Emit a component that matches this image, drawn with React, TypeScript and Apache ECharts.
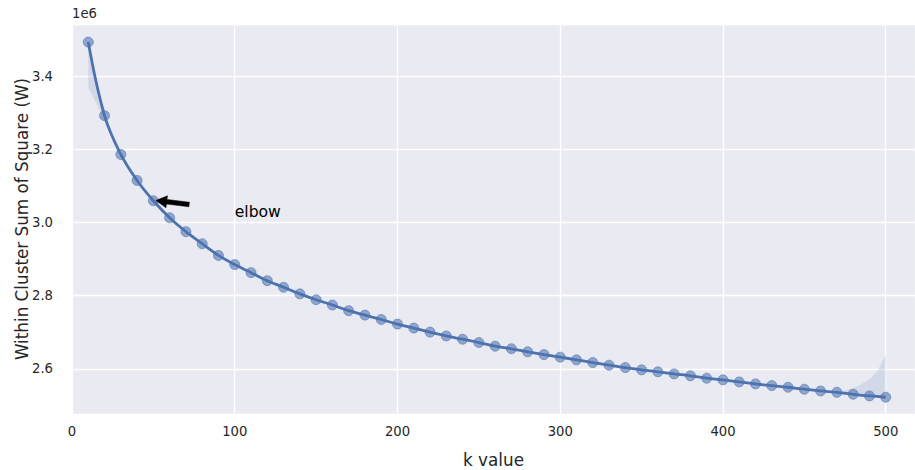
import React, { useEffect, useRef } from 'react';
import * as echarts from 'echarts';

// k values (number of clusters)
const kValues = [
  10, 20, 30, 40, 50, 60, 70, 80, 90, 100,
  110, 120, 130, 140, 150, 160, 170, 180, 190, 200,
  210, 220, 230, 240, 250, 260, 270, 280, 290, 300,
  310, 320, 330, 340, 350, 360, 370, 380, 390, 400,
  410, 420, 430, 440, 450, 460, 470, 480, 490, 500,
];

// Within cluster sum of squares
const wcss = [
  3493000, 3292000, 3186000, 3115000, 3059500, 3013000, 2975000, 2942000, 2910000, 2885000,
  2863000, 2841000, 2823000, 2805000, 2789000, 2774500, 2759000, 2747000, 2735000, 2722500,
  2711500, 2700500, 2690000, 2681000, 2672000, 2662000, 2655000, 2646600, 2639000, 2632000,
  2624700, 2617300, 2610000, 2603600, 2597300, 2592000, 2586300, 2581000, 2574500, 2570000,
  2564400, 2559000, 2554300, 2549800, 2544400, 2539700, 2536000, 2530600, 2526000, 2522500,
];

// Confidence band (only visible at the two ends)
const bandLeftK = [10, 15, 20, 25, 30];
const bandLeftUpper = [3493000, 3390000, 3292000, 3232000, 3186000];
const bandLeftLower = [3367000, 3326000, 3275000, 3228000, 3186000];
const bandRightK = [470, 475, 480, 485, 490, 495, 500];
const bandRightUpper = [2536000, 2541500, 2547000, 2558000, 2572000, 2594500, 2640000];
const bandRightLower = [2536000, 2533000, 2530600, 2528000, 2526000, 2524000, 2522500];

// Axis settings
const xMin = 0;
const xMax = 518;
const xTickStep = 100;
const yMin = 2476700;
const yMax = 3542500;
const yTickStep = 200000;

// Annotation
const elbowTip = [51.5, 3060300];
const elbowTail = [72, 3049300];
const elbowText = [100, 3027400];
const elbowLabel = 'elbow';

export default function App() {
  const ref = useRef<HTMLDivElement>(null);

  useEffect(() => {
    const chart = echarts.init(ref.current!, null, { renderer: 'svg' });
    const font = 'DejaVu Sans';
    const ink = '#262626';
    const blue = '#4C72B0';
    const points = kValues.map((k, i) => [k, wcss[i]]);
    const bands = [
      { k: bandLeftK, upper: bandLeftUpper, lower: bandLeftLower },
      { k: bandRightK, upper: bandRightUpper, lower: bandRightLower },
    ];

    chart.setOption({
      animation: false,
      grid: {
        left: 72,
        top: 24,
        right: 0,
        bottom: 56,
        show: true,
        backgroundColor: '#EAEAF2',
        borderWidth: 0,
        containLabel: false,
        outerBoundsMode: 'none',
      },
      xAxis: {
        type: 'value',
        min: xMin,
        max: xMax,
        interval: xTickStep,
        axisLine: { show: false },
        axisTick: { show: false },
        splitLine: { show: true, lineStyle: { color: '#ffffff', width: 1.3 } },
        axisLabel: {
          margin: 11,
          fontFamily: font,
          fontSize: 13.2,
          color: ink,
          showMaxLabel: false,
          formatter: (v: number) => (Math.round(v) % xTickStep === 0 ? String(Math.round(v)) : ''),
        },
        name: 'k value',
        nameLocation: 'middle',
        nameGap: 37,
        nameTextStyle: { fontFamily: font, fontSize: 16.8, color: ink },
      },
      yAxis: {
        type: 'value',
        min: yMin,
        max: yMax,
        splitNumber: 5,
        axisLine: { show: false },
        axisTick: { show: false },
        splitLine: { show: true, lineStyle: { color: '#ffffff', width: 1.3 } },
        axisLabel: {
          margin: 19,
          fontFamily: font,
          fontSize: 13.2,
          color: ink,
          showMinLabel: false,
          showMaxLabel: false,
          formatter: (v: number) =>
            Math.round(v) % yTickStep === 0 ? (v / 1e6).toFixed(1) : '',
        },
        name: 'Within Cluster Sum of Square (W)',
        nameLocation: 'middle',
        nameGap: 42,
        nameMoveOverlap: false,
        nameTextStyle: { fontFamily: font, fontSize: 16.8, color: ink },
      },
      series: [
        {
          type: 'custom',
          silent: true,
          z: 1,
          data: bands.map((b) => [b.k[0], b.upper[0]]),
          renderItem: (params: any, api: any) => {
            const b = bands[params.dataIndex];
            const up = b.k.map((k, i) => api.coord([k, b.upper[i]]));
            const lo = b.k.map((k, i) => api.coord([k, b.lower[i]])).reverse();
            return {
              type: 'polygon',
              shape: { points: up.concat(lo) },
              style: { fill: 'rgba(76,114,176,0.15)', stroke: 'none' },
            };
          },
        },
        {
          type: 'scatter',
          z: 2,
          data: points,
          symbolSize: 10,
          itemStyle: {
            color: 'rgba(76,114,176,0.72)',
            borderColor: 'rgba(76,114,176,0.72)',
            borderWidth: 1,
          },
        },
        {
          type: 'line',
          z: 3,
          data: points,
          smooth: 0.4,
          showSymbol: false,
          lineStyle: { color: blue, width: 2.8 },
        },
      ],
    });

    const tip = chart.convertToPixel({ gridIndex: 0 }, elbowTip) as number[];
    const tail = chart.convertToPixel({ gridIndex: 0 }, elbowTail) as number[];
    const txt = chart.convertToPixel({ gridIndex: 0 }, elbowText) as number[];
    const dx = tail[0] - tip[0];
    const dy = tail[1] - tip[1];
    const len = Math.hypot(dx, dy);
    const ux = dx / len;
    const uy = dy / len;
    const nx = -uy;
    const ny = ux;
    const headLen = 11;
    const headHalf = 6;
    const shaftHalf = 2.3;
    const hb = [tip[0] + ux * headLen, tip[1] + uy * headLen];
    const arrowPts = [
      [tip[0], tip[1]],
      [hb[0] + nx * headHalf, hb[1] + ny * headHalf],
      [hb[0] + nx * shaftHalf, hb[1] + ny * shaftHalf],
      [tail[0] + nx * shaftHalf, tail[1] + ny * shaftHalf],
      [tail[0] - nx * shaftHalf, tail[1] - ny * shaftHalf],
      [hb[0] - nx * shaftHalf, hb[1] - ny * shaftHalf],
      [hb[0] - nx * headHalf, hb[1] - ny * headHalf],
    ];
    const topLeft = chart.convertToPixel({ gridIndex: 0 }, [xMin, yMax]) as number[];

    chart.setOption({
      graphic: [
        {
          type: 'polygon',
          z: 10,
          shape: { points: arrowPts },
          style: { fill: '#000000', stroke: '#000000', lineWidth: 0.5 },
        },
        {
          type: 'text',
          z: 10,
          x: txt[0],
          y: txt[1],
          style: {
            text: elbowLabel,
            fontFamily: font,
            fontSize: 15.6,
            fill: '#000000',
            verticalAlign: 'middle',
            align: 'left',
          },
        },
        {
          type: 'text',
          z: 10,
          x: topLeft[0],
          y: topLeft[1] - 4,
          style: {
            text: '1e6',
            fontFamily: font,
            fontSize: 13.2,
            fill: ink,
            verticalAlign: 'bottom',
            align: 'left',
          },
        },
      ],
    });

    return () => chart.dispose();
  }, []);

  return (
    <div
      ref={ref}
      style={{ position: 'fixed', left: 0, top: 0, width: 915, height: 470, background: '#ffffff' }}
    />
  );
}
